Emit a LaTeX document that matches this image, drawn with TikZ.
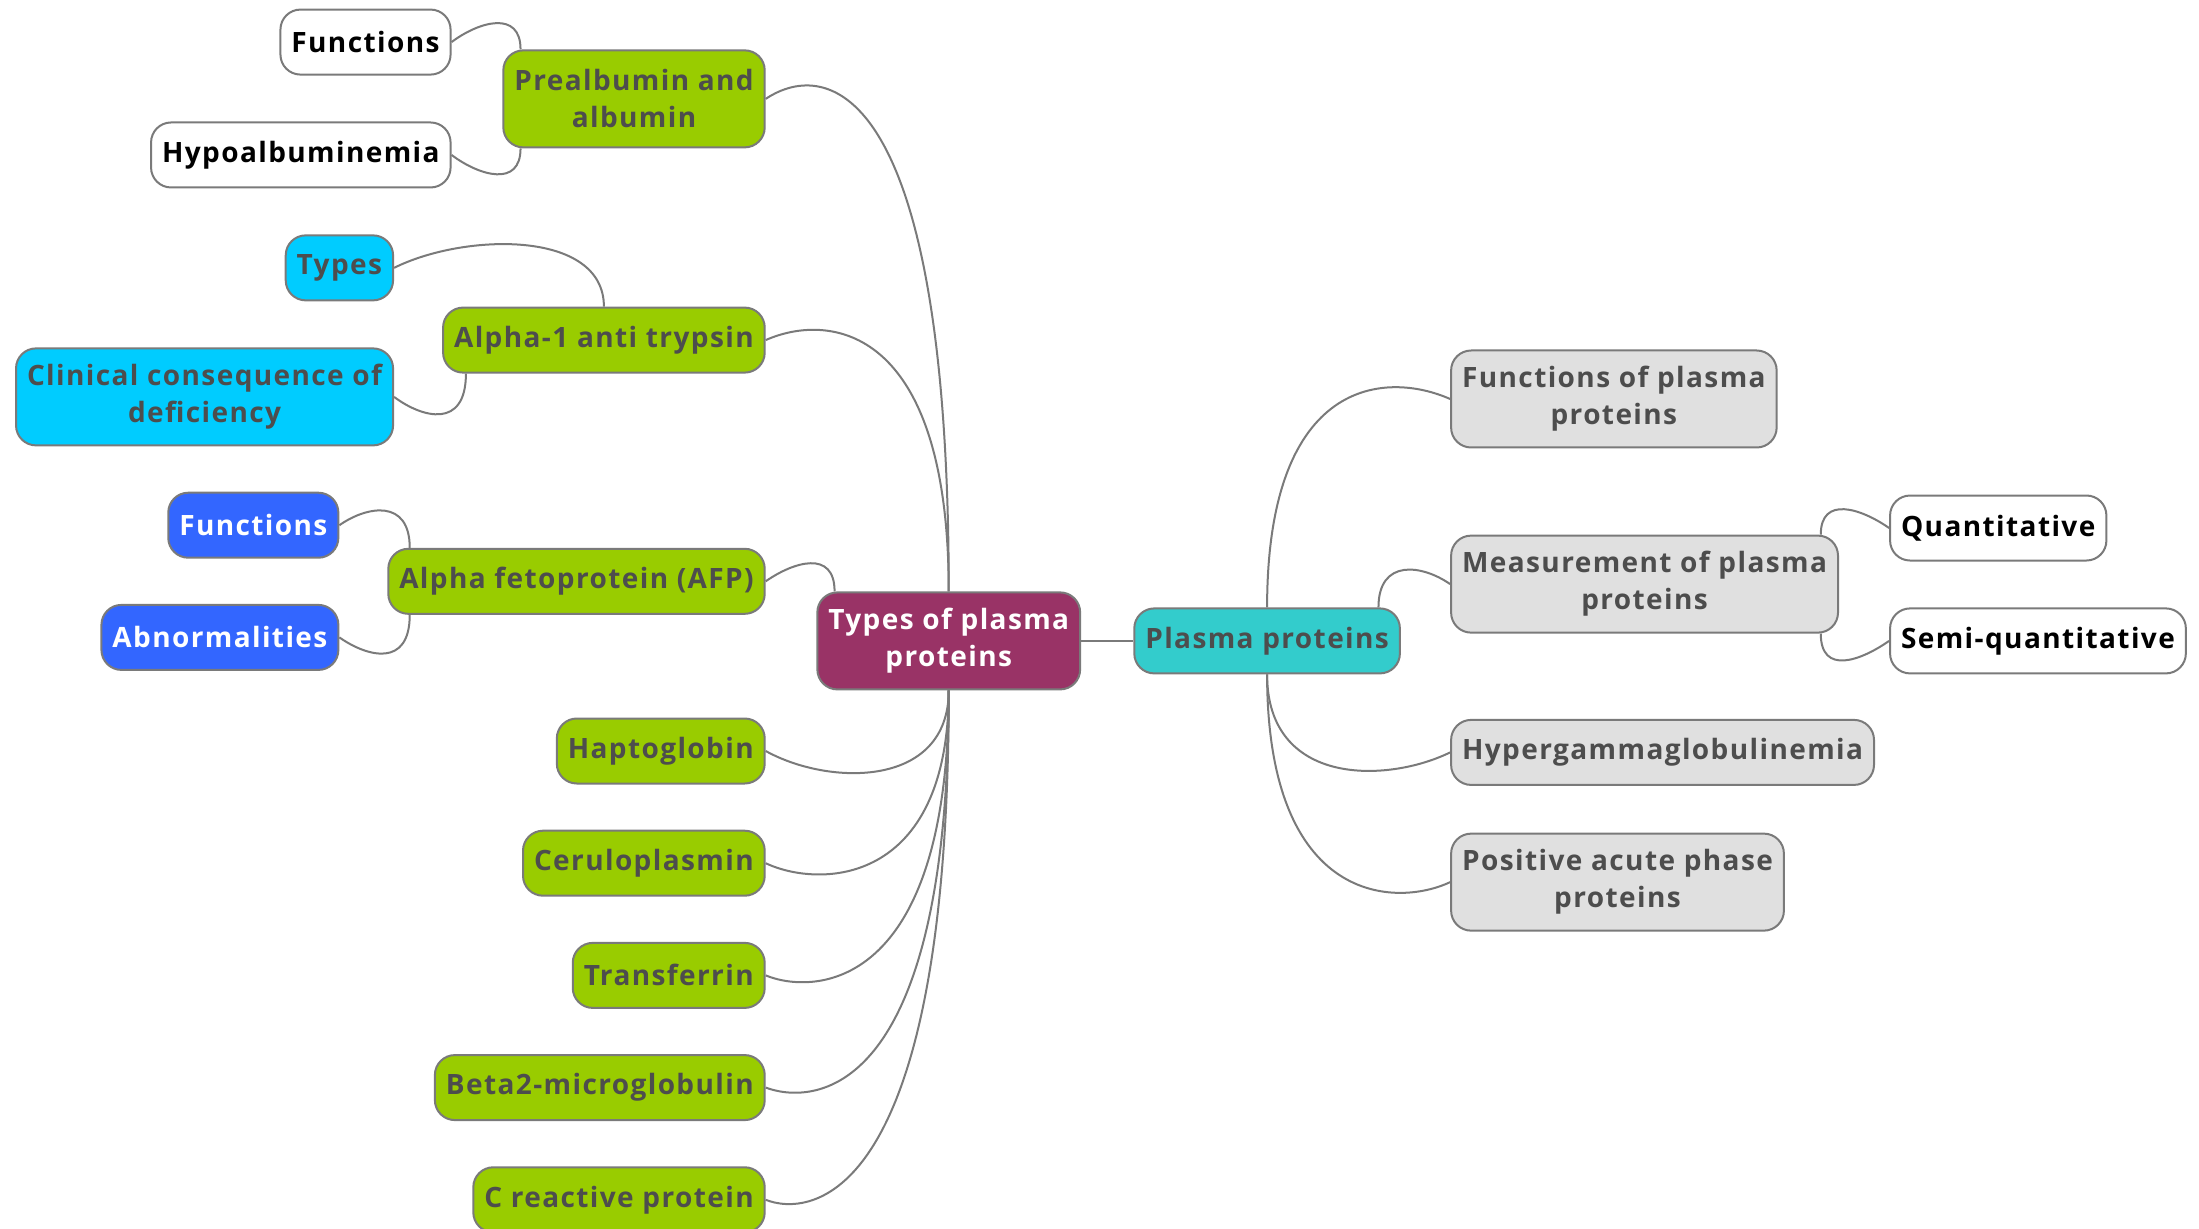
\documentclass[tikz,border=0pt]{standalone}
\usepackage{fontspec}
\setmainfont{Open Sans}[LetterSpace=5]
\usetikzlibrary{calc}
\definecolor{cgreen}{HTML}{99CC00}
\definecolor{ccyan}{HTML}{00CCFF}
\definecolor{cblue}{HTML}{3366FF}
\definecolor{cmaroon}{HTML}{993366}
\definecolor{cteal}{HTML}{33CCCC}
\definecolor{cgrey}{HTML}{E0E0E0}
\definecolor{cline}{HTML}{7A7A7A}
\definecolor{ctext}{HTML}{4D4D4D}
\tikzset{
  mbox/.style={draw=cline, line width=2pt, rounded corners=20pt, inner xsep=11pt, inner ysep=0pt,
    minimum height=65pt, align=center, font=\fontsize{28}{37}\selectfont\bfseries},
  two/.style={minimum height=97pt},
  greenbox/.style={mbox, fill=cgreen, text=ctext},
  cyanbox/.style={mbox, fill=ccyan, text=ctext},
  bluebox/.style={mbox, fill=cblue, text=white},
  maroonbox/.style={mbox, fill=cmaroon, text=white},
  tealbox/.style={mbox, fill=cteal, text=ctext},
  greybox/.style={mbox, fill=cgrey, text=ctext},
  whitebox/.style={mbox, fill=white, text=black},
  conn/.style={draw=cline, line width=2pt}
}
\begin{document}
\begin{tikzpicture}[x=1.4024pt,y=-1.4024pt]
\clip (0,0) rectangle (1568,876);
\fill[white] (0,0) rectangle (1568,876);
% left side
\node[greenbox,two,anchor=east] (pre) at (546,70.5) {Prealbumin and\\albumin};
\node[whitebox,anchor=east] (fw) at (322,30) {Functions};
\node[whitebox,anchor=east] (hypo) at (322,110.5) {Hypoalbuminemia};
\node[cyanbox,anchor=east] (types) at (281,191) {Types};
\node[cyanbox,two,anchor=east] (clin) at (281,283) {Clinical consequence of\\deficiency};
\node[greenbox,anchor=east] (a1) at (546,242.5) {Alpha-1 anti trypsin};
\node[bluebox,anchor=east] (fb) at (242,374.5) {Functions};
\node[bluebox,anchor=east] (abn) at (242,454.5) {Abnormalities};
\node[greenbox,anchor=east] (afp) at (546,414.5) {Alpha fetoprotein (AFP)};
\node[maroonbox,two] (T) at (676.5,457) {Types of plasma\\proteins};
\node[greenbox,anchor=east] (hap) at (546,535.5) {Haptoglobin};
\node[greenbox,anchor=east] (cer) at (546,615.5) {Ceruloplasmin};
\node[greenbox,anchor=east] (tra) at (546,695.5) {Transferrin};
\node[greenbox,anchor=east] (b2) at (546,775.5) {Beta2-microglobulin};
\node[greenbox,anchor=east] (crp) at (546,855.5) {C reactive protein};
% right side
\node[tealbox] (P) at (903.5,457) {Plasma proteins};
\node[greybox,two,anchor=west] (fop) at (1034,284.5) {Functions of plasma\\proteins};
\node[greybox,two,anchor=west] (meas) at (1034,416.5) {Measurement of plasma\\proteins};
\node[whitebox,anchor=west] (quant) at (1347,376.5) {Quantitative};
\node[whitebox,anchor=west] (semi) at (1347,457) {Semi-quantitative};
\node[greybox,anchor=west] (hyper) at (1034,536.5) {Hypergammaglobulinemia};
\node[greybox,two,anchor=west] (pos) at (1034,629) {Positive acute phase\\proteins};
% connectors from central node
\draw[conn] (pre.east) .. controls +(45,-30) and +(0,-360) .. (T.north);
\draw[conn] (a1.east) .. controls +(45,-20) and +(0,-190) .. (T.north);
\draw[conn] (afp.east) .. controls +(20,-14) and +(0,-30) .. ($(T.north west)+(13,0)$);
\draw[conn] (hap.east) .. controls +(45,25) and +(0,70) .. (T.south);
\draw[conn] (cer.east) .. controls +(38,18) and +(0,140) .. (T.south);
\draw[conn] (tra.east) .. controls +(34,14) and +(0,215) .. (T.south);
\draw[conn] (b2.east) .. controls +(32,12) and +(0,295) .. (T.south);
\draw[conn] (crp.east) .. controls +(30,12) and +(0,370) .. (T.south);
\draw[conn] (T.east) -- (P.west);
% connectors from Plasma proteins
\draw[conn] (fop.west) .. controls +(-45,-20) and +(0,-165) .. (P.north);
\draw[conn] (meas.west) .. controls +(-20,-14) and +(0,-35) .. ($(P.north east)+(-16,0)$);
\draw[conn] (hyper.west) .. controls +(-45,22) and +(0,80) .. (P.south);
\draw[conn] (pos.west) .. controls +(-38,18) and +(0,165) .. (P.south);
% secondary connectors
\draw[conn] (fw.east) .. controls +(20,-15) and +(0,-28) .. ($(pre.north west)+(13,0)$);
\draw[conn] (hypo.east) .. controls +(20,15) and +(0,28) .. ($(pre.south west)+(13,0)$);
\draw[conn] (types.east) .. controls +(50,-25) and +(0,-55) .. (a1.north);
\draw[conn] (clin.east) .. controls +(20,15) and +(0,40) .. ($(a1.south west)+(17,0)$);
\draw[conn] (fb.east) .. controls +(20,-14) and +(0,-35) .. ($(afp.north west)+(16,0)$);
\draw[conn] (abn.east) .. controls +(20,14) and +(0,38) .. ($(afp.south west)+(16,0)$);
\draw[conn] (quant.west) .. controls +(-20,-14) and +(0,-28) .. ($(meas.north east)+(-13,0)$);
\draw[conn] (semi.west) .. controls +(-20,14) and +(0,30) .. ($(meas.south east)+(-13,0)$);
\end{tikzpicture}
\end{document}
